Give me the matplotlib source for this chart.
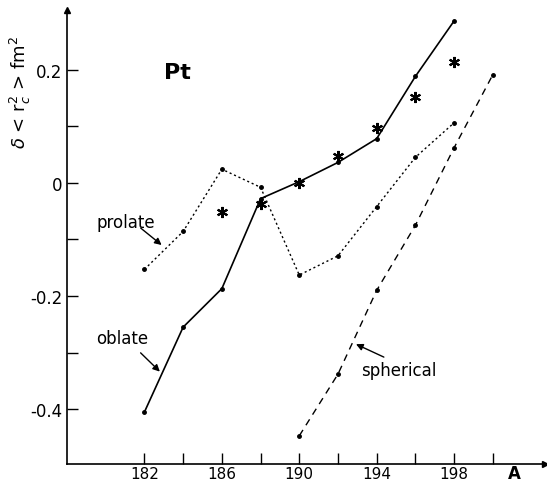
import matplotlib.pyplot as plt

# mass numbers
a_oblate = [182, 184, 186, 188, 190, 192, 194, 196, 198]
oblate = [-0.405, -0.255, -0.187, -0.028, 0.002, 0.036, 0.078, 0.188, 0.286]

a_prolate = [182, 184, 186, 188, 190, 192, 194, 196, 198]
prolate = [-0.153, -0.086, 0.024, -0.008, -0.163, -0.129, -0.042, 0.045, 0.106]

a_spher = [190, 192, 194, 196, 198, 200]
spherical = [-0.447, -0.338, -0.190, -0.075, 0.062, 0.191]

a_exp = [186, 188, 190, 192, 194, 196, 198]
exp_vals = [-0.052, -0.038, 0.0, 0.048, 0.097, 0.151, 0.214]

xticks = [182, 186, 190, 194, 198]
yticks = [-0.4, -0.2, 0, 0.2]
ytick_labels = ['-0.4', '-0.2', '0', '0.2']

fig = plt.figure(figsize=(5.47, 4.85), dpi=100)
ax = fig.add_axes([0.1225, 0.041, 0.874, 0.936])

ax.plot(a_oblate, oblate, 'k-', lw=1.2, marker='o', ms=2.5)
ax.plot(a_prolate, prolate, 'k', ls=(0, (1.5, 2)), lw=1.0, marker='o', ms=2.5)
ax.plot(a_spher, spherical, 'k', ls=(0, (5, 4)), lw=1.0, marker='o', ms=2.5)
ax.plot(a_exp, exp_vals, 'k', ls='none', marker=(6, 2, 0), ms=8, mew=1.5)

ax.set_xlim(178, 202.7)
ax.set_ylim(-0.497, 0.305)

ax.spines['top'].set_visible(False)
ax.spines['right'].set_visible(False)
ax.spines['left'].set_linewidth(1.2)
ax.spines['bottom'].set_linewidth(1.2)
# arrow heads on axes
ax.plot(1, 0, '>k', ms=5, transform=ax.transAxes, clip_on=False)
ax.plot(0, 1, '^k', ms=5, transform=ax.transAxes, clip_on=False)

ax.set_xticks(xticks)
ax.set_xticks([184, 188, 192, 196, 200], minor=True)
ax.set_yticks(yticks)
ax.set_yticklabels(ytick_labels)
ax.set_yticks([-0.3, -0.1, 0.1], minor=True)
ax.tick_params(which='both', direction='in', length=8, width=1.0, labelsize=12)
ax.tick_params(axis='x', pad=1, labelsize=11)

fig.text(0.037, 0.81, r'$\delta$ < r$_c^2$ > fm$^2$', rotation=90, fontsize=13,
         ha='center', va='center')
fig.text(0.94, 0.022, 'A', fontsize=12, fontweight='bold', ha='center', va='center')

ax.text(183.0, 0.185, 'Pt', fontsize=16, fontweight='bold')
ax.text(179.5, -0.07, 'prolate', fontsize=12, va='center')
ax.text(179.5, -0.275, 'oblate', fontsize=12, va='center')
ax.text(193.2, -0.33, 'spherical', fontsize=12, va='center')

ax.annotate('', xy=(183.0, -0.113), xytext=(181.7, -0.077),
            arrowprops=dict(arrowstyle='-|>', color='k', lw=1.0, mutation_scale=10))
ax.annotate('', xy=(182.9, -0.337), xytext=(181.7, -0.297),
            arrowprops=dict(arrowstyle='-|>', color='k', lw=1.0, mutation_scale=10))
ax.annotate('', xy=(192.8, -0.283), xytext=(194.5, -0.31),
            arrowprops=dict(arrowstyle='-|>', color='k', lw=1.0, mutation_scale=10))

fig.savefig('out.png', dpi=100)
